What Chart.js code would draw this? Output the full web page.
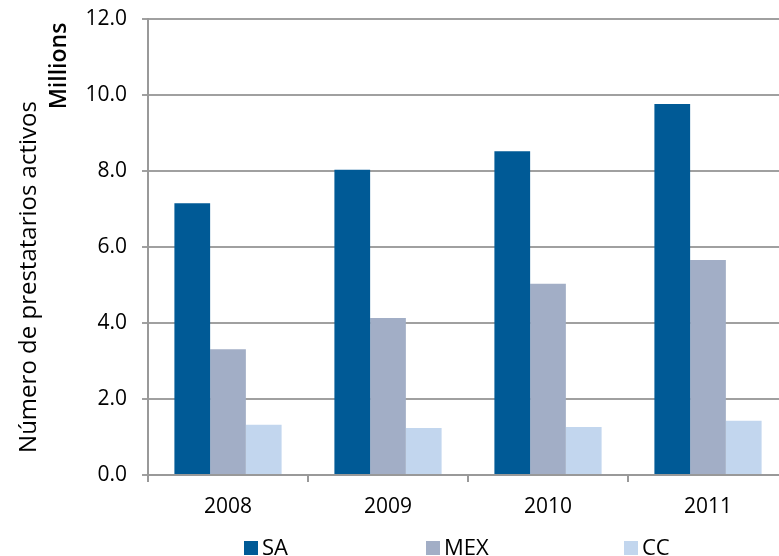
<!DOCTYPE html>
<html>
<head>
<meta charset="utf-8">
<script src="https://cdn.jsdelivr.net/npm/chart.js@4/dist/chart.umd.min.js"></script>
<style>
html,body{margin:0;padding:0;background:#fff;overflow:hidden;}
#wrap{width:779px;height:556px;overflow:hidden;position:relative;}
#box{width:790px;height:556px;position:absolute;left:0;top:0;}
</style>
</head>
<body>
<div id="wrap"><div id="box"><canvas id="c"></canvas></div></div>
<script>
const categories = ['2008', '2009', '2010', '2011'];
const seriesNames = ['SA', 'MEX', 'CC'];
const saValues = [7.15, 8.03, 8.52, 9.76];
const mexValues = [3.31, 4.13, 5.03, 5.66];
const ccValues = [1.32, 1.24, 1.26, 1.43];
const yTicks = [0, 2, 4, 6, 8, 10, 12];
const yTitle = 'Número de prestatarios activos';
const unitLabel = 'Millions';

const colors = ['#005A96', '#A2AEC6', '#C2D6EE'];
const FONT = "'Open Sans', sans-serif";

const extras = {
  id: 'extras',
  afterDraw(chart) {
    const ctx = chart.ctx;
    ctx.save();
    ctx.fillStyle = '#000';
    // y title
    ctx.save();
    ctx.translate(29, 277);
    ctx.rotate(-Math.PI / 2);
    ctx.font = '24px ' + FONT;
    ctx.textAlign = 'center';
    ctx.textBaseline = 'middle';
    ctx.fillText(yTitle, 0, 0);
    ctx.restore();
    // unit label
    ctx.save();
    ctx.translate(59, 66);
    ctx.rotate(-Math.PI / 2);
    ctx.font = '600 23px ' + FONT;
    ctx.textAlign = 'center';
    ctx.textBaseline = 'middle';
    ctx.fillText(unitLabel, 0, 0);
    ctx.restore();
    // legend
    const lx = [244, 426, 624];
    ctx.font = '22px ' + FONT;
    ctx.textBaseline = 'middle';
    ctx.textAlign = 'left';
    chart.data.datasets.forEach((ds, i) => {
      ctx.fillStyle = ds.backgroundColor;
      ctx.fillRect(lx[i], 541, 14, 14);
      ctx.fillStyle = '#000';
      ctx.fillText(ds.label, lx[i] + 18, 549);
    });
    ctx.restore();
  }
};

new Chart(document.getElementById('c'), {
  type: 'bar',
  data: {
    labels: categories,
    datasets: [
      { label: seriesNames[0], data: saValues, backgroundColor: colors[0] },
      { label: seriesNames[1], data: mexValues, backgroundColor: colors[1] },
      { label: seriesNames[2], data: ccValues, backgroundColor: colors[2] }
    ]
  },
  options: {
    responsive: true,
    maintainAspectRatio: false,
    animation: false,
    layout: { padding: { left: 0, right: 2, top: 19, bottom: 0 } },
    datasets: { bar: { categoryPercentage: 0.67, barPercentage: 1.0, borderWidth: 0 } },
    plugins: { legend: { display: false }, tooltip: { enabled: false } },
    scales: {
      x: {
        offset: true,
        grid: { display: true, drawOnChartArea: false, drawTicks: true, tickLength: 7, color: '#999', lineWidth: 2, offset: true },
        border: { display: true, color: '#999', width: 2 },
        ticks: { color: '#000', font: { family: FONT, size: 21 }, padding: 12, maxRotation: 0 },
        afterFit(scale) { scale.height = 81; scale.paddingLeft = 0; scale.paddingRight = 0; }
      },
      y: {
        min: 0, max: 12,
        afterBuildTicks(scale) { scale.ticks = yTicks.map(v => ({ value: v })); },
        grid: { color: '#A0A0A0', lineWidth: 2, tickLength: 6, drawTicks: true },
        border: { display: true, color: '#999', width: 2 },
        ticks: { color: '#000', font: { family: FONT, size: 21 }, padding: 15, callback: v => v.toFixed(1) },
        afterFit(scale) { scale.width = 148; scale.paddingTop = 0; scale.paddingBottom = 0; }
      }
    }
  },
  plugins: [extras]
});
</script>
</body>
</html>
